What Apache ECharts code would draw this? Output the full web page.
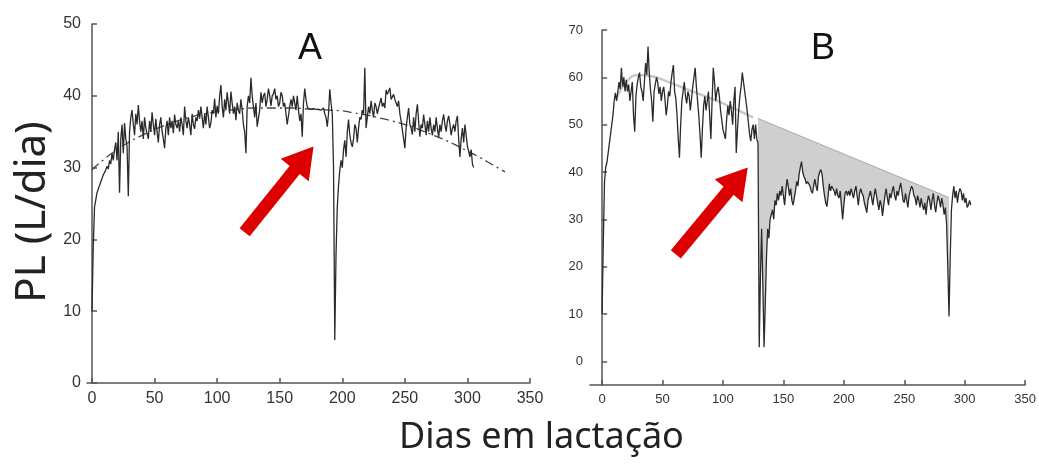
<!DOCTYPE html>
<html>
<head>
<meta charset="utf-8">
<style>
  html, body { margin: 0; padding: 0; background: #fff; }
  #chart { width: 1039px; height: 466px; }
</style>
<script src="https://cdn.jsdelivr.net/npm/echarts@6/dist/echarts.min.js"></script>
</head>
<body>
<div id="chart"></div>
<script>
// painel A: produção diária (dia = índice)
var prodA = [
  10, 19, 24.5, 25.5, 26.5, 27, 27.5, 28, 28.5, 29,
  29.3, 29.7, 30.2, 29.8, 31, 30.5, 32, 31, 32.5, 33.5,
  31, 35, 26.5, 34, 36, 32, 36.2, 34, 33, 26,
  35, 37, 38, 36, 34.5, 37.5, 36, 38.7, 36.5, 35,
  36.5, 34, 37, 35.5, 35.4, 34, 36.5, 35, 37.7, 36,
  34.5, 36.8, 35, 33.5, 36, 37, 35, 34, 32.7, 35.5,
  36.5, 34.5, 37, 35.5, 36.5, 34.8, 37.4, 36, 35.5, 36.5,
  35, 37, 36, 34.5, 38.5, 36.5, 35.5, 37, 36, 34.5,
  37.5, 36, 35.4, 37, 36.5, 38, 36.8, 38.5, 37, 35.5,
  37.5, 36, 38.5, 37, 35.5, 36.2, 38, 37.5, 39.6, 37,
  38.6, 37.5, 40, 41.5, 38.5, 37, 39.5, 38, 40.5, 39,
  37.5, 40.6, 39, 37.5, 38.5, 36.6, 39, 38, 37.5, 39.5,
  38, 36, 35, 32, 38.5, 40, 39, 42.5, 40, 38.5,
  37, 39, 35.7, 35.5, 38, 40.5, 39, 40, 40.4, 38.5,
  39.5, 41, 40, 38.6, 40, 40.3, 41, 39.5, 40, 38.5,
  39, 40.5, 40, 38.5, 39, 37.5, 36, 36.2, 38.5, 39.5,
  38.5, 40, 39, 38, 40, 38, 36.5, 37.5, 34.3, 39,
  41, 39.5, 38.5, 38.2, 38.2, 38.1, 38.2, 38.2, 38, 38.1,
  38.2, 38.1, 38.2, 38, 38.1, 38.3, 37.5, 37, 35.7, 37.5,
  40.9, 39, 37.5, 30, 6, 18, 24.5, 27.5, 29.6, 31,
  30, 32.5, 33.8, 31.5, 35, 36.7, 34.5, 33.5, 32.9, 34,
  36, 35.5, 33.5, 35.5, 37, 36.7, 38, 37.5, 43.9, 35.5,
  37, 38.5, 37.5, 39.3, 38, 37, 39, 38.5, 37.5, 38.3,
  39, 39.7, 38.5, 39, 38.3, 40.8, 40.2, 40, 41.1, 39.5,
  39.4, 40.2, 39.5, 39.3, 38.5, 39.3, 37.5, 36.5, 36.7, 34,
  32.7, 35.5, 37, 38.3, 36, 35.5, 34.6, 37, 35, 37.5,
  38.8, 36.5, 34.3, 36, 35.5, 37.4, 36, 34.5, 36.5, 35,
  37, 35.5, 34.5, 36, 35, 37, 35.5, 34.2, 36, 35,
  36.5, 37.4, 36, 35, 36.5, 37.2, 36, 34.5, 35.5, 36,
  35, 36.5, 37.2, 34, 31.5, 34, 35.5, 33.5, 36, 34.5,
  33, 33.2, 31.5, 32.5, 30.5, 30
];

// curva ajustada (tracejada) do painel A
var curvaDiasA = [0, 10, 20, 30, 40, 50, 60, 70, 80, 90, 100, 110, 120, 130, 140, 150, 160,
  170, 180, 190, 200, 210, 220, 230, 240, 250, 260, 270, 280, 290, 300, 310, 320, 330];
var curvaValA = [29.7, 31.2, 32.5, 33.6, 34.5, 35.3, 36.0, 36.6, 37.1, 37.5, 37.8, 38.0, 38.2,
  38.3, 38.3, 38.3, 38.3, 38.2, 38.1, 38.0, 37.9, 37.6, 37.3, 36.9, 36.5, 36.0, 35.4, 34.7,
  34.0, 33.2, 32.3, 31.4, 30.4, 29.4];

// painel B: produção diária
var prodB = [
  10, 25, 38, 41, 42, 44, 46, 48, 50, 52,
  55, 56.7, 55, 57, 59, 57.5, 62, 58, 60, 57,
  59.5, 57, 58.5, 55, 57, 59, 52, 48.5, 56, 58.5,
  60, 61, 58, 57, 55, 59, 63, 60.5, 66.5, 61,
  57.5, 55, 50.6, 57, 58.5, 60, 59, 56.5, 58, 55,
  57, 58, 55.5, 52, 54, 57, 56, 59, 61, 62.6,
  57, 55.5, 52, 47, 43, 50, 55, 57, 59, 56,
  54.5, 57, 56, 53, 55.5, 58, 60, 62, 58, 55,
  52, 48, 43, 49, 54, 56, 53, 55, 57, 52,
  47, 55, 62, 59, 55, 57, 58, 56, 53, 51,
  49, 48, 47, 51, 54, 52, 55, 53, 50, 55,
  58, 44, 49, 53, 56, 58, 61, 59, 57, 55,
  53, 50.5, 48, 46.5, 49, 50, 47, 50, 47, 46,
  3, 18, 28, 16, 3, 12, 22, 28, 26, 30,
  31, 32, 30, 34, 33, 35.5, 34, 36, 35, 37,
  35, 33, 36, 38.5, 37, 35, 36.5, 34, 33, 32.7,
  36, 38, 37, 39.5, 41, 42.2, 40, 39, 38.5, 37.5,
  38, 38.4, 37, 36, 35.5, 37, 38.5, 37, 36, 39,
  40, 40.5, 39.5, 37, 35, 33.5, 32.7, 35, 37.5, 36,
  37, 37, 36, 35, 36.5, 35, 34.5, 36, 33, 30,
  33, 35.5, 36, 35, 36, 35, 36.5, 35.5, 34.5, 36,
  37, 35, 33, 35.5, 36.5, 35.5, 35, 33.5, 32.5, 31.4,
  34, 35, 36, 34.5, 33, 35, 36.5, 35, 33.5, 32,
  34, 33, 30.7, 33, 35, 36.5, 34.5, 33, 35.5, 34.5,
  36, 37, 35, 34, 36, 35, 36.5, 37.7, 36, 34,
  33.5, 35.5, 34, 32.5, 35, 36, 37, 36.5, 35, 34.5,
  33, 35, 34, 32.5, 34.5, 33, 32, 33.5, 31, 33.5,
  35, 34, 32, 34, 35.5, 33, 31.5, 33.5, 35, 34,
  32.5, 34.5, 33, 31, 32.5, 29, 20, 9.5, 22, 32,
  35, 37, 34.5, 36, 33.5, 35.5, 36.5, 36, 34, 35.5,
  33.5, 34.5, 32.5, 33, 34, 33
];

// curva esperada (cinza claro) no início do painel B
var curvaDiasB = [12, 20, 30, 40, 55, 75, 100, 125];
var curvaValB = [55.5, 59, 60.5, 60.3, 59, 57, 54.5, 51.5];

// perda estimada: reta entre início e fim da queda
var perdaDias = [129, 287];
var perdaVal = [51.3, 34.6];

var ticksX = [0, 50, 100, 150, 200, 250, 300, 350];
var ticksYB = [0, 10, 20, 30, 40, 50, 60, 70];

var setaA = [[122, 21], [169.5, 31.3]];
var setaB = [[61, 22.6], [112.6, 38.5]];

function pares(vals, offset) {
  return vals.map(function (v, i) { return [i + (offset || 0), v]; });
}
function zip(xs, ys) {
  return xs.map(function (x, i) { return [x, ys[i]]; });
}

var eixoCor = '#555';
var fonteNum = 'Liberation Sans, Arial, sans-serif';

function eixoX(grid, min, fs) {
  return {
    type: 'value', gridIndex: grid, min: min, max: 350,
    axisLine: { show: true, onZero: false, lineStyle: { color: eixoCor, width: 1.5 } },
    axisTick: { inside: true, length: 5, customValues: ticksX, lineStyle: { color: eixoCor, width: 1.5 } },
    axisLabel: { customValues: ticksX, fontSize: fs, color: '#333', margin: 8, fontFamily: fonteNum },
    splitLine: { show: false }
  };
}

var seta = {
  silent: true,
  symbol: ['none', 'triangle'],
  symbolSize: [36, 30],
  label: { show: false },
  lineStyle: { color: '#dd0000', width: 13, type: 'solid', cap: 'butt' },
  itemStyle: { color: '#dd0000' },
  emphasis: { disabled: true }
};

var chart = echarts.init(document.getElementById('chart'));
var option = {
  animation: false,
  backgroundColor: '#fff',
  title: [
    { text: 'A', left: 298, top: 31, padding: 0,
      textStyle: { fontSize: 36, fontWeight: 'normal', color: '#111', fontFamily: fonteNum } },
    { text: 'B', left: 811, top: 31, padding: 0,
      textStyle: { fontSize: 36, fontWeight: 'normal', color: '#111', fontFamily: fonteNum } },
    { text: 'Dias em lactação', left: 399, top: 420, padding: 0,
      textStyle: { fontSize: 36, fontWeight: 'normal', color: '#222', fontFamily: 'Noto Sans' } }
  ],
  grid: [
    { left: 87, top: 24, width: 443, height: 359 },
    { left: 590, top: 30, width: 436, height: 355 }
  ],
  xAxis: [eixoX(0, -4, 16), eixoX(1, -10, 13)],
  yAxis: [
    {
      type: 'value', gridIndex: 0, min: 0, max: 50, interval: 10,
      name: 'PL (L/dia)', nameLocation: 'middle', nameGap: 33, nameRotate: 90,
      nameTextStyle: { fontSize: 42, color: '#222', fontFamily: 'Noto Sans', padding: [0, 17, 0, 0] },
      axisLine: { show: true, lineStyle: { color: eixoCor, width: 1.5 } },
      axisTick: { show: true, inside: true, length: 5, lineStyle: { color: eixoCor, width: 1.5 } },
      axisLabel: { fontSize: 16, color: '#333', margin: 6, fontFamily: fonteNum },
      splitLine: { show: false }
    },
    {
      type: 'value', gridIndex: 1, min: -5, max: 70,
      axisLine: { show: true, lineStyle: { color: eixoCor, width: 1.5 } },
      axisTick: { show: true, inside: true, length: 5, customValues: ticksYB, lineStyle: { color: eixoCor, width: 1.5 } },
      axisLabel: { customValues: ticksYB, fontSize: 13, color: '#333', margin: 7, fontFamily: fonteNum },
      splitLine: { show: false }
    }
  ],
  series: [
    {
      name: 'curvaA', type: 'line', xAxisIndex: 0, yAxisIndex: 0, smooth: true, symbol: 'none',
      data: zip(curvaDiasA, curvaValA),
      lineStyle: { color: '#444', width: 1.3, type: [9, 4, 2, 4] }
    },
    {
      name: 'A', type: 'line', xAxisIndex: 0, yAxisIndex: 0, symbol: 'none', sampling: false,
      data: pares(prodA),
      lineStyle: { color: '#2a2a2a', width: 1.3 },
      markLine: Object.assign({ data: [[{ coord: setaA[0] }, { coord: setaA[1] }]] }, seta)
    },
    {
      name: 'perda', type: 'line', xAxisIndex: 1, yAxisIndex: 1, symbol: 'none',
      data: zip(perdaDias, perdaVal),
      lineStyle: { color: '#aaa', width: 1 },
      areaStyle: { color: '#cfcfcf', opacity: 1, origin: 0 },
      z: 1
    },
    {
      // máscara branca abaixo dos dados, para deixar só a área de perda
      name: 'mascara', type: 'line', xAxisIndex: 1, yAxisIndex: 1, symbol: 'none',
      data: pares(prodB.slice(perdaDias[0], perdaDias[1] + 1), perdaDias[0]),
      lineStyle: { width: 0 },
      areaStyle: { color: '#fff', opacity: 1, origin: -2 },
      z: 1
    },
    {
      name: 'curvaB', type: 'line', xAxisIndex: 1, yAxisIndex: 1, smooth: true, symbol: 'none',
      data: zip(curvaDiasB, curvaValB),
      lineStyle: { color: '#c8c8c8', width: 2.5 },
      z: 1
    },
    {
      name: 'B', type: 'line', xAxisIndex: 1, yAxisIndex: 1, symbol: 'none',
      data: pares(prodB),
      lineStyle: { color: '#2a2a2a', width: 1.3 },
      markLine: Object.assign({ data: [[{ coord: setaB[0] }, { coord: setaB[1] }]] }, seta)
    }
  ]
};
chart.setOption(option);
</script>
</body>
</html>
